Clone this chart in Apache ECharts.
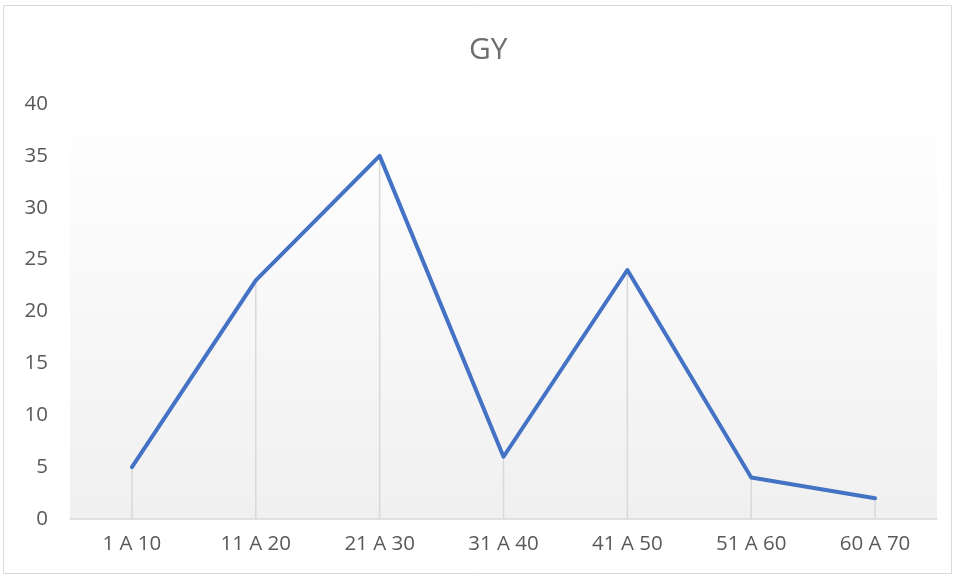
<!DOCTYPE html>
<html>
<head>
<meta charset="utf-8">
<script src="https://cdn.jsdelivr.net/npm/echarts@6/dist/echarts.min.js"></script>
<style>
  html, body { margin: 0; padding: 0; background: #fff; }
  #chart { width: 955px; height: 578px; }
</style>
</head>
<body>
<div id="chart"></div>
<script>
// Age groups and counts
const categories = ['1 A 10', '11 A 20', '21 A 30', '31 A 40', '41 A 50', '51 A 60', '60 A 70'];
const values = [5, 23, 35, 6, 24, 4, 2];
const yTicks = { min: 0, max: 40, interval: 5 };

const chart = echarts.init(document.getElementById('chart'), null, { renderer: 'canvas' });
const textColor = '#595959';
const font = '"Open Sans", "Liberation Sans", sans-serif';

chart.setOption({
  animation: false,
  backgroundColor: '#ffffff',
  title: {
    text: 'GY',
    left: 464,
    top: 30,
    textStyle: { fontFamily: font, fontSize: 30, fontWeight: 'normal', color: '#6e6e6e' }
  },
  graphic: [{
    type: 'rect',
    shape: { x: 3.5, y: 5.5, width: 948, height: 568 },
    style: { fill: 'none', stroke: '#d9d9d9', lineWidth: 1 },
    silent: true
  }],
  grid: {
    left: 70, right: 18, top: 104, bottom: 59,
    show: true,
    borderWidth: 0,
    backgroundColor: new echarts.graphic.LinearGradient(0, 0, 0, 1, [
      { offset: 0, color: '#ffffff' },
      { offset: 1, color: '#f0f0f0' }
    ])
  },
  xAxis: {
    type: 'category',
    data: categories,
    boundaryGap: true,
    axisLine: { show: true, lineStyle: { color: '#d9d9d9', width: 1.5 } },
    axisTick: { show: false },
    splitLine: { show: false },
    axisLabel: { color: textColor, fontFamily: font, fontSize: 20.5, margin: 15 }
  },
  yAxis: {
    type: 'value',
    min: yTicks.min, max: yTicks.max, interval: yTicks.interval,
    axisLine: { show: false },
    axisTick: { show: false },
    splitLine: { show: false },
    axisLabel: { color: textColor, fontFamily: font, fontSize: 20.5, margin: 22 }
  },
  series: [
    {
      // drop lines from each point to the axis
      type: 'bar',
      data: values,
      barWidth: 1.5,
      itemStyle: { color: '#d9d9d9' },
      silent: true,
      z: 1
    },
    {
      type: 'line',
      data: values,
      showSymbol: false,
      symbol: 'none',
      lineStyle: { color: '#4472c4', width: 4, cap: 'round', join: 'round' },
      z: 3
    }
  ]
});
</script>
</body>
</html>
